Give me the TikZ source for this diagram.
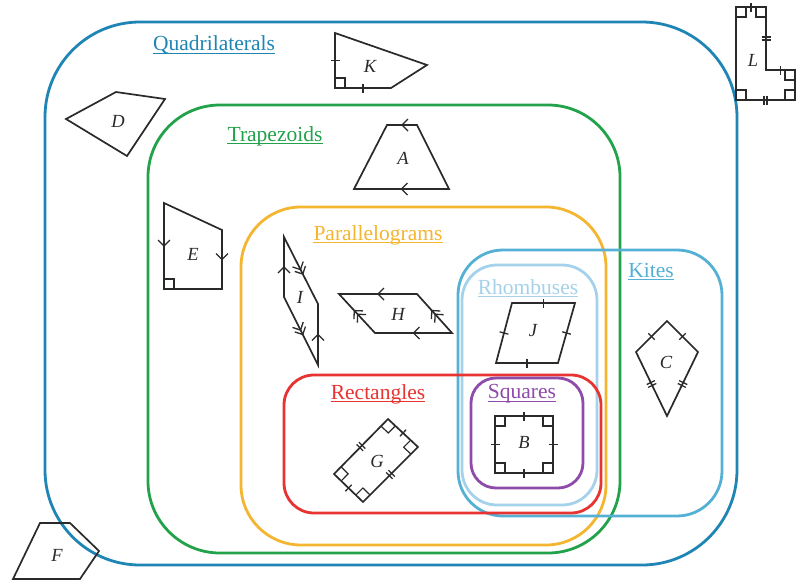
\documentclass[tikz,border=0pt]{standalone}
\usepackage{fontspec}
\setmainfont{Liberation Serif}
\usetikzlibrary{calc,decorations.markings}
\definecolor{quadc}{HTML}{1F85B5}
\definecolor{trapc}{HTML}{22A24A}
\definecolor{parac}{HTML}{F4B530}
\definecolor{kitec}{HTML}{55B0D6}
\definecolor{rhomc}{HTML}{A5D2EA}
\definecolor{rectc}{HTML}{E73431}
\definecolor{sqc}{HTML}{8E4BA9}
\definecolor{ink}{HTML}{2A2A2A}
\tikzset{
  region/.style={draw, line width=2.8pt, inner sep=0pt},
  rlabel/.style={font=\fontsize{21.5}{22}\selectfont, inner sep=0pt},
  polyg/.style={draw=ink, line width=1.7pt, line join=miter},
  slabel/.style={font=\fontsize{18.5}{19}\selectfont\itshape, text=ink},
  chev/.style={draw=ink, line width=1.3pt},
  tickone/.style={postaction={decorate,decoration={markings,mark=at position 0.5 with {\draw[chev] (0,-4.5pt)--(0,4.5pt);}}}},
  ticktwo/.style={postaction={decorate,decoration={markings,mark=at position 0.5 with {\draw[chev] (-1.6pt,-4.5pt)--(-1.6pt,4.5pt) (1.6pt,-4.5pt)--(1.6pt,4.5pt);}}}},
  arrone/.style={postaction={decorate,decoration={markings,mark=at position 0.5 with {\draw[chev] (-6pt,6pt)--(0,0)--(-6pt,-6pt);}}}},
  arrtwo/.style={postaction={decorate,decoration={markings,mark=at position 0.5 with {\draw[chev] (-2pt,6pt)--(4pt,0)--(-2pt,-6pt) (-7pt,6pt)--(-1pt,0)--(-7pt,-6pt);}}}},
}
\newcommand\ramark[3]{%
  \coordinate (ra1) at ($(#1)!10pt!(#2)$);
  \coordinate (ra2) at ($(#1)!10pt!(#3)$);
  \draw[draw=ink, line width=1.2pt] (ra1) -- ($(ra1)+(ra2)-(#1)$) -- (ra2);}
\newcommand\reglabel[4]{%
  \node[rlabel,text=#3] (#1) at (#2) {#4};
  \draw[#3, line width=1.2pt] ([yshift=-2.5pt]#1.base west) -- ([yshift=-2.5pt]#1.base east);}
\begin{document}
\begin{tikzpicture}[x=1pt,y=-1pt]
\fill[white] (0,0) rectangle (796,582);
\useasboundingbox (0,0) rectangle (796,582);

% regions
\node[region, draw=quadc, minimum width=692pt, minimum height=543pt, rounded corners=95pt] (quad) at (391,293.5) {};
\node[region, draw=trapc, minimum width=472pt, minimum height=448pt, rounded corners=72pt] (trap) at (384,329) {};
\node[region, draw=parac, minimum width=365pt, minimum height=338pt, rounded corners=60pt] (para) at (423.5,376) {};
\node[region, draw=kitec, minimum width=264pt, minimum height=266pt, rounded corners=45pt] (kite) at (590,383) {};
\node[region, draw=rhomc, minimum width=135pt, minimum height=240pt, rounded corners=35pt] (rhom) at (529.5,385) {};
\node[region, draw=rectc, minimum width=317pt, minimum height=138pt, rounded corners=30pt] (rect) at (442.5,444) {};
\node[region, draw=sqc, minimum width=112pt, minimum height=110pt, rounded corners=25pt] (sq) at (527,433) {};

% region labels
\reglabel{lquad}{214,45}{quadc}{Quadrilaterals}
\reglabel{ltrap}{275,136}{trapc}{Trapezoids}
\reglabel{lpara}{378,235}{parac}{Parallelograms}
\reglabel{lrhom}{528,287}{rhomc}{Rhombuses}
\reglabel{lkite}{651,270}{kitec}{Kites}
\reglabel{lrect}{378,394}{rectc}{Rectangles}
\reglabel{lsq}{522,394}{sqc}{Squares}

% K
\coordinate (K1) at (335,33); \coordinate (K2) at (335,88);
\coordinate (K3) at (391,88); \coordinate (K4) at (427,65);
\draw[polyg] (K1) -- (K2) -- (K3) -- (K4) -- cycle;
\path[tickone] (K1) -- (K2); \path[tickone] (K2) -- (K3);
\ramark{K2}{K1}{K3}
\node[slabel] (kK) at (370,66) {K};

% L
\coordinate (L1) at (736,7); \coordinate (L2) at (766,7);
\coordinate (L3) at (766,70); \coordinate (L4) at (795,70);
\coordinate (L5) at (795,100); \coordinate (L6) at (736,100);
\draw[polyg] (L1) -- (L2) -- (L3) -- (L4) -- (L5) -- (L6) -- cycle;
\path[tickone] (L1) -- (L2); \path[ticktwo] (L2) -- (L3);
\path[tickone] (L3) -- (L4); \path[ticktwo] (L5) -- (L6);
\ramark{L1}{L2}{L6} \ramark{L2}{L1}{L3} \ramark{L4}{L3}{L5}
\ramark{L5}{L4}{L6} \ramark{L6}{L5}{L1}
\node[slabel] (kL) at (753,60) {L};

% D
\draw[polyg] (66,119) -- (116,92) -- (165,99) -- (127,156) -- cycle;
\node[slabel] (kD) at (118,121) {D};

% A
\coordinate (A1) at (387,125); \coordinate (A2) at (417,125);
\coordinate (A3) at (449,189); \coordinate (A4) at (354,189);
\draw[polyg] (A1) -- (A2) -- (A3) -- (A4) -- cycle;
\path[arrone] (A2) -- (A1); \path[arrone] (A3) -- (A4);
\node[slabel] (kA) at (403,158) {A};

% E
\coordinate (E1) at (164,203); \coordinate (E2) at (222,230);
\coordinate (E3) at (222,289); \coordinate (E4) at (164,289);
\draw[polyg] (E1) -- (E2) -- (E3) -- (E4) -- cycle;
\path[arrone] (E1) -- (E4); \path[arrone] (E2) -- (E3);
\ramark{E4}{E1}{E3}
\node[slabel] (kE) at (193,254) {E};

% I
\coordinate (I1) at (284,237); \coordinate (I2) at (318,304);
\coordinate (I3) at (318,365); \coordinate (I4) at (284,297);
\draw[polyg] (I1) -- (I2) -- (I3) -- (I4) -- cycle;
\path[arrone] (I4) -- (I1); \path[arrone] (I3) -- (I2);
\path[arrtwo] (I1) -- (I2); \path[arrtwo] (I4) -- (I3);
\node[slabel] (kI) at (300,297) {I};

% H
\coordinate (H1) at (339,294); \coordinate (H2) at (417,294);
\coordinate (H3) at (452,333); \coordinate (H4) at (375,333);
\draw[polyg] (H1) -- (H2) -- (H3) -- (H4) -- cycle;
\path[arrone] (H2) -- (H1); \path[arrone] (H3) -- (H4);
\path[arrtwo] (H4) -- (H1); \path[arrtwo] (H3) -- (H2);
\node[slabel] (kH) at (398,314) {H};

% J
\coordinate (J1) at (512,303); \coordinate (J2) at (575,303);
\coordinate (J3) at (558,363); \coordinate (J4) at (496,363);
\draw[polyg] (J1) -- (J2) -- (J3) -- (J4) -- cycle;
\path[tickone] (J1) -- (J2); \path[tickone] (J2) -- (J3);
\path[tickone] (J3) -- (J4); \path[tickone] (J4) -- (J1);
\node[slabel] (kJ) at (533,331) {J};

% C
\coordinate (C1) at (667,321); \coordinate (C2) at (698,352);
\coordinate (C3) at (667,416); \coordinate (C4) at (636,352);
\draw[polyg] (C1) -- (C2) -- (C3) -- (C4) -- cycle;
\path[tickone] (C4) -- (C1); \path[tickone] (C1) -- (C2);
\path[ticktwo] (C2) -- (C3); \path[ticktwo] (C3) -- (C4);
\node[slabel] (kC) at (666,362) {C};

% G
\coordinate (G1) at (388,419); \coordinate (G2) at (418,447);
\coordinate (G3) at (363,502); \coordinate (G4) at (334,474);
\draw[polyg] (G1) -- (G2) -- (G3) -- (G4) -- cycle;
\path[tickone] (G1) -- (G2); \path[tickone] (G3) -- (G4);
\path[ticktwo] (G2) -- (G3); \path[ticktwo] (G4) -- (G1);
\ramark{G1}{G4}{G2} \ramark{G2}{G1}{G3} \ramark{G3}{G2}{G4} \ramark{G4}{G3}{G1}
\node[slabel] (kG) at (377,461) {G};

% B
\coordinate (B1) at (495,416); \coordinate (B2) at (553,416);
\coordinate (B3) at (553,473); \coordinate (B4) at (495,473);
\draw[polyg] (B1) -- (B2) -- (B3) -- (B4) -- cycle;
\path[tickone] (B1) -- (B2); \path[tickone] (B2) -- (B3);
\path[tickone] (B3) -- (B4); \path[tickone] (B4) -- (B1);
\ramark{B1}{B2}{B4} \ramark{B2}{B1}{B3} \ramark{B3}{B2}{B4} \ramark{B4}{B3}{B1}
\node[slabel] (kB) at (524,442) {B};

% F
\draw[polyg] (40,523) -- (70,523) -- (99,551) -- (80,579) -- (13,579) -- cycle;
\node[slabel] (kF) at (57,555) {F};
\end{tikzpicture}
\end{document}
